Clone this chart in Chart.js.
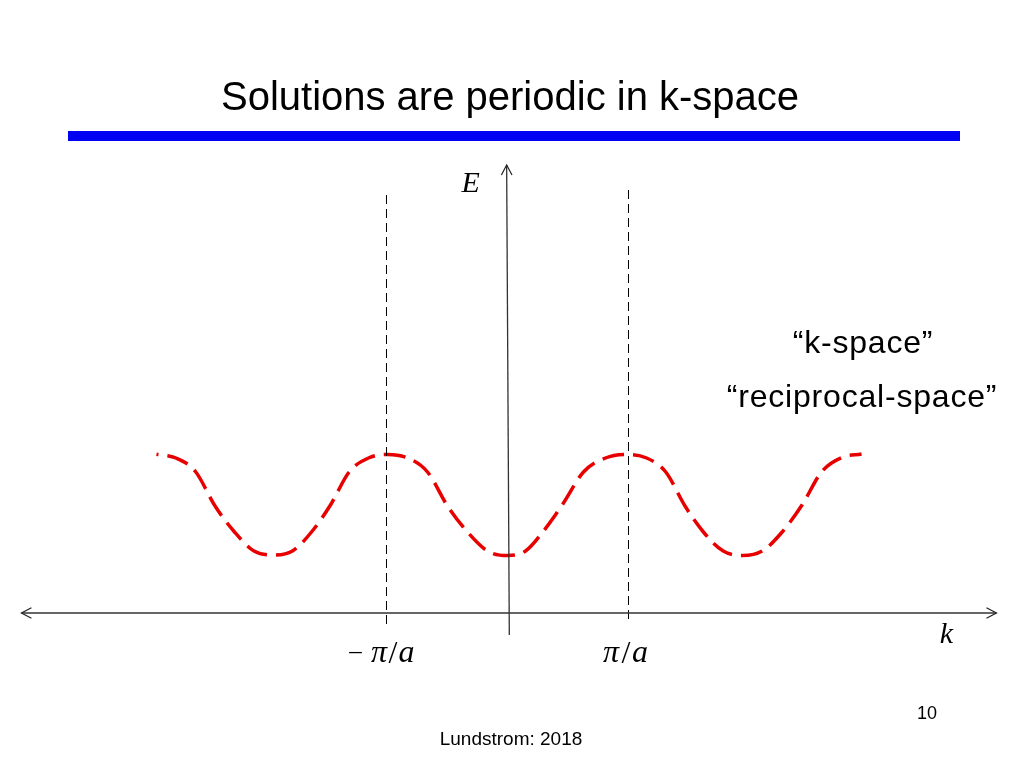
<!DOCTYPE html>
<html>
<head>
<meta charset="utf-8">
<script src="https://cdn.jsdelivr.net/npm/chart.js@4.4.1/dist/chart.umd.min.js"></script>
<style>
  html, body { margin: 0; padding: 0; background: #ffffff; overflow: hidden; }
  #wrap { width: 1024px; height: 768px; position: relative; }
</style>
</head>
<body>
<div id="wrap"><canvas id="c" width="1024" height="768"></canvas></div>
<script>
// ---- data (k in units of pi/a, E in arbitrary units; E = 0 on the k axis) ----
const titleText = 'Solutions are periodic in k-space';
const kValues = [
  -2.901, -2.740, -2.579, -2.417, -2.256, -2.095, -1.934,
  -1.777, -1.620, -1.463, -1.306, -1.149, -0.992,
  -0.826, -0.661, -0.496, -0.331, -0.165, 0.000,
  0.149, 0.298, 0.455, 0.628, 0.810, 0.992,
  1.150, 1.308, 1.467, 1.626, 1.783, 1.942,
  2.106, 2.270, 2.434, 2.598, 2.762, 2.926
];
const energyValues = [
  1.587, 1.55, 1.415, 1.07, 0.81, 0.62, 0.58,
  0.62, 0.81, 1.08, 1.415, 1.55, 1.585,
  1.55, 1.41, 1.07, 0.81, 0.62, 0.575,
  0.62, 0.82, 1.085, 1.41, 1.55, 1.585,
  1.55, 1.41, 1.07, 0.80, 0.62, 0.575,
  0.62, 0.81, 1.08, 1.415, 1.555, 1.59
];
const boundaryTicks = [-1, 1];               // -pi/a and pi/a
const boundaryTop = [4.18, 4.23];            // upper end of each dashed boundary line
const boundaryBottom = [-0.12, -0.09];       // lower end of each dashed boundary line
const kAxisRange = [-4.017, 4.041];          // k axis extent (arrow to arrow)
const eAxisRange = [-0.22, 4.48];            // E axis extent (bottom to arrow)
const eAxisK = [0.015, -0.007];              // slight lean of the drawn E axis (bottom, top)
const annotations = ['\u201Ck-space\u201D', '\u201Creciprocal-space\u201D'];
const slideNumber = '10';
const footerText = 'Lundstrom: 2018';

// ---- datasets ----
const curve = kValues.map((k, i) => ({ x: k, y: energyValues[i] }));
const kAxis = [{ x: kAxisRange[0], y: 0 }, { x: kAxisRange[1], y: 0 }];
const eAxis = [{ x: eAxisK[0], y: eAxisRange[0] }, { x: eAxisK[1], y: eAxisRange[1] }];
const boundaries = boundaryTicks.map((k, i) => [{ x: k, y: boundaryTop[i] }, { x: k, y: boundaryBottom[i] }]);

const serif = '"Liberation Serif", "Times New Roman", serif';
const sans = '"Liberation Sans", Arial, sans-serif';

const decorations = {
  id: 'decorations',
  afterDatasetsDraw(chart) {
    const ctx = chart.ctx;
    const xs = chart.scales.x, ys = chart.scales.y;
    ctx.save();
    // title and blue rule
    ctx.fillStyle = '#000';
    ctx.font = '40px ' + sans;
    ctx.textAlign = 'center';
    ctx.textBaseline = 'alphabetic';
    ctx.fillText(titleText, 510, 109.5);
    ctx.fillStyle = '#0000F2';
    ctx.fillRect(68, 131, 892, 10);

    // arrowheads
    ctx.strokeStyle = '#222';
    ctx.lineWidth = 1.2;
    const arrow = (tx, ty, ax, ay) => {
      const len = Math.hypot(ax, ay);
      const ux = ax / len, uy = ay / len;
      const L = 10, W = 5.3;
      ctx.beginPath();
      ctx.moveTo(tx - ux * L - uy * W, ty - uy * L + ux * W);
      ctx.lineTo(tx, ty);
      ctx.lineTo(tx - ux * L + uy * W, ty - uy * L - ux * W);
      ctx.stroke();
    };
    const y0 = ys.getPixelForValue(0);
    arrow(xs.getPixelForValue(kAxisRange[0]), y0, -1, 0);
    arrow(xs.getPixelForValue(kAxisRange[1]), y0, 1, 0);
    const eTopX = xs.getPixelForValue(eAxisK[1]), eTopY = ys.getPixelForValue(eAxisRange[1]);
    const eBotX = xs.getPixelForValue(eAxisK[0]), eBotY = ys.getPixelForValue(eAxisRange[0]);
    arrow(eTopX, eTopY, eTopX - eBotX, eTopY - eBotY);

    // axis labels
    ctx.fillStyle = '#000';
    ctx.font = 'italic 30px ' + serif;
    ctx.textAlign = 'center';
    ctx.fillText('E', eTopX - 36, eTopY + 27);
    ctx.fillText('k', xs.getPixelForValue(kAxisRange[1]) - 50, y0 + 30);

    // boundary labels
    const bl = ys.getPixelForValue(0) + 49;
    const xl = xs.getPixelForValue(boundaryTicks[0]);
    const xr = xs.getPixelForValue(boundaryTicks[1]);
    ctx.font = '25px ' + serif;
    ctx.fillText('\u2013', xl - 31, bl - 3);
    ctx.font = 'italic 32px ' + serif;
    ctx.fillText('\u03C0', xl - 7.5, bl);
    ctx.fillText('a', xl + 20, bl);
    ctx.fillText('\u03C0', xr - 17.5, bl);
    ctx.fillText('a', xr + 11.5, bl);
    ctx.font = '32px ' + serif;
    ctx.fillText('/', xl + 6.5, bl + 1);
    ctx.fillText('/', xr - 2.5, bl + 1);

    // annotations
    ctx.font = '32px ' + sans;
    ctx.letterSpacing = '0.8px';
    ctx.fillText(annotations[0], 863, 353);
    ctx.fillText(annotations[1], 862, 407);
    ctx.letterSpacing = '0px';

    // footer
    ctx.font = '18px ' + sans;
    ctx.fillText(slideNumber, 927, 719);
    ctx.font = '19px ' + sans;
    ctx.fillText(footerText, 511, 745);
    ctx.restore();
  }
};

new Chart(document.getElementById('c'), {
  type: 'line',
  data: {
    datasets: [
      { data: kAxis, borderColor: '#333', borderWidth: 1.3, pointRadius: 0 },
      { data: eAxis, borderColor: '#333', borderWidth: 1.3, pointRadius: 0 },
      { data: boundaries[0], borderColor: '#000', borderWidth: 1, borderDash: [9, 5], pointRadius: 0 },
      { data: boundaries[1], borderColor: '#000', borderWidth: 1, borderDash: [9, 5], pointRadius: 0 },
      {
        data: curve, borderColor: 'rgb(232,0,0)', borderWidth: 3.5,
        borderDash: [22, 9], borderDashOffset: 20,
        cubicInterpolationMode: 'monotone', pointRadius: 0
      }
    ]
  },
  options: {
    responsive: false,
    devicePixelRatio: 1,
    animation: false,
    layout: { padding: 0 },
    plugins: { legend: { display: false }, tooltip: { enabled: false }, title: { display: false } },
    scales: {
      x: { type: 'linear', display: false, min: -4.1942, max: 4.2686 },
      y: { type: 'linear', display: false, min: -1.55, max: 6.13 }
    }
  },
  plugins: [decorations]
});
</script>
</body>
</html>
